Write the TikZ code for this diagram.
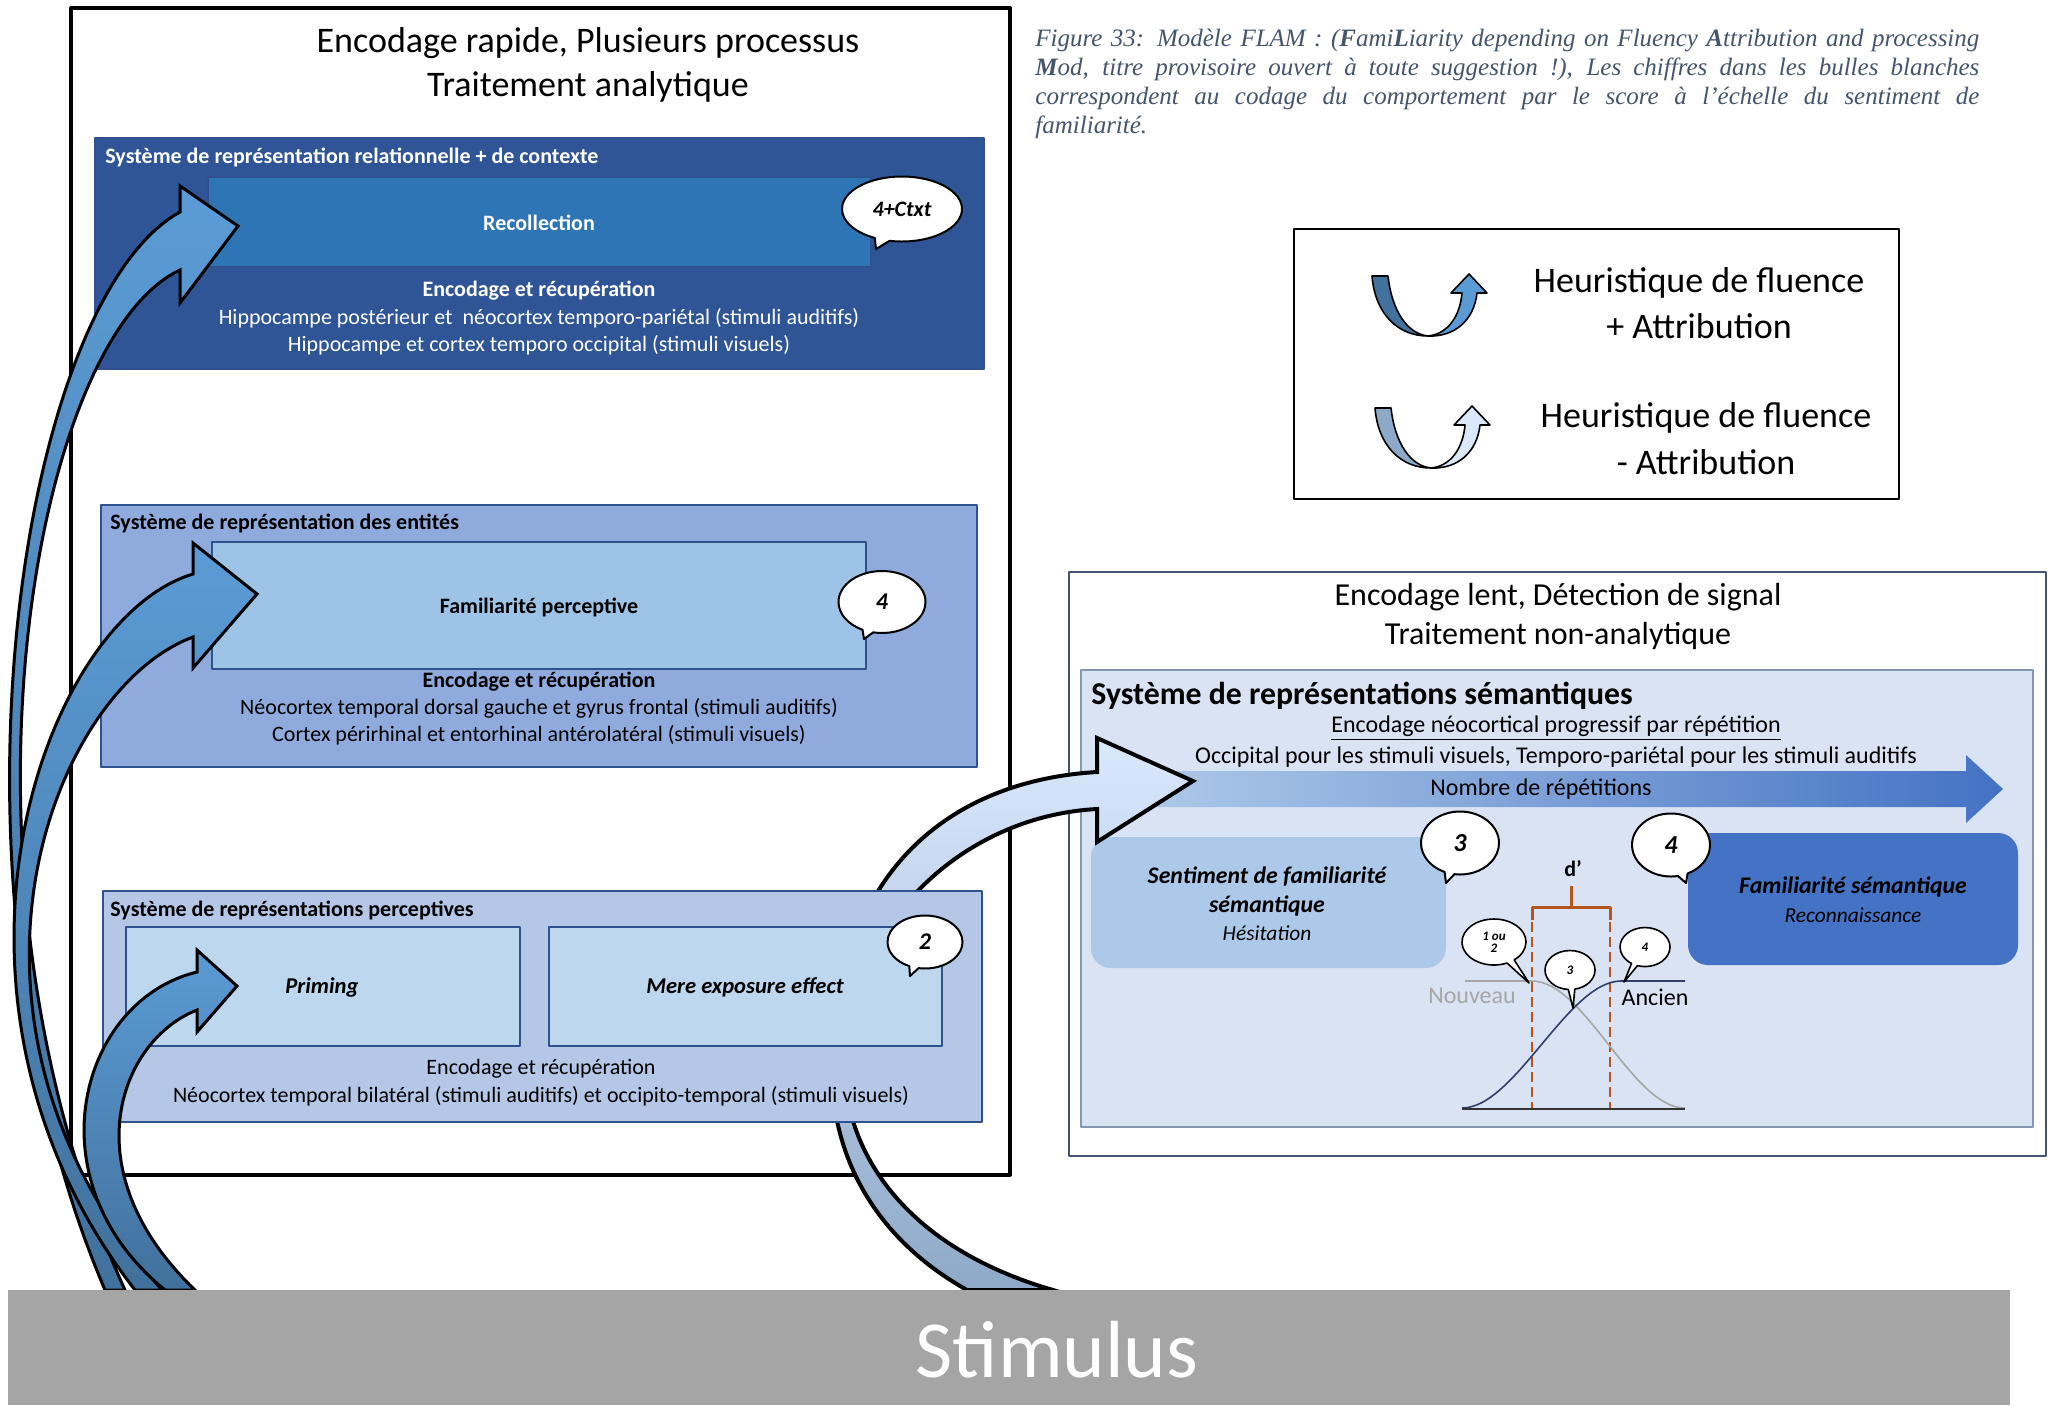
\documentclass[tikz,border=0pt]{standalone}
\usepackage{fontspec}
\setmainfont{Carlito}
\newfontfamily\capfont{Liberation Serif}
\usetikzlibrary{shapes.callouts}

\definecolor{recobg}{HTML}{2F5597}
\definecolor{recofill}{HTML}{2E75B6}
\definecolor{entbg}{HTML}{8FAADC}
\definecolor{entfill}{HTML}{9DC3E6}
\definecolor{percbg}{HTML}{B4C7E7}
\definecolor{percfill}{HTML}{BDD7EE}
\definecolor{edgeblue}{HTML}{2F528F}
\definecolor{sembg}{HTML}{DAE3F3}
\definecolor{semedge}{HTML}{8497B0}
\definecolor{frameblue}{HTML}{44546A}
\definecolor{sentfill}{HTML}{ADC9E9}
\definecolor{famfill}{HTML}{4472C4}
\definecolor{replight}{HTML}{AFCAE9}
\definecolor{repdark}{HTML}{4472C4}
\definecolor{arrowlight}{HTML}{5B9BD5}
\definecolor{arrowdark}{HTML}{41719C}
\definecolor{paleup}{HTML}{DAE8FC}
\definecolor{paledown}{HTML}{8EA9C8}
\definecolor{dprime}{HTML}{B5541B}
\definecolor{nouveaugray}{HTML}{A6A6A6}
\definecolor{ancienblue}{HTML}{2F3E6B}
\definecolor{stimgray}{HTML}{A5A5A5}
\definecolor{captiongray}{HTML}{44546A}

\tikzset{
  panel/.style={draw=edgeblue, line width=0.6pt},
  boxhead/.style={anchor=west, inner sep=0pt, font=\bfseries\fontsize{11}{13}\selectfont},
  boxtext/.style={inner sep=0pt, font=\fontsize{11}{13}\selectfont},
  boxbold/.style={inner sep=0pt, font=\bfseries\fontsize{11}{13}\selectfont},
  boxital/.style={inner sep=0pt, font=\bfseries\itshape\fontsize{11.3}{13}\selectfont},
  semital/.style={inner sep=0pt, font=\bfseries\itshape\fontsize{11.9}{14}\selectfont},
  semsub/.style={inner sep=0pt, font=\itshape\fontsize{10.7}{12}\selectfont},
  semtext/.style={inner sep=0pt, font=\fontsize{12}{14}\selectfont},
  bubble/.style={ellipse callout, draw=black, fill=white, line width=1pt, inner sep=0pt,
    font=\bfseries\itshape\fontsize{12}{14}\selectfont},
  smallbubble/.style={bubble, line width=0.8pt, font=\bfseries\itshape\fontsize{6.5}{7}\selectfont},
  blockarrow/.style={draw=black, line width=1.5pt, line join=miter},
  captline/.style={anchor=base west, inner sep=0pt, text=captiongray,
    font=\capfont\itshape\fontsize{12.5}{14.5}\selectfont},
}

\begin{document}
\begin{tikzpicture}[x=0.5pt, y=-0.5pt, line join=round]

  %% ════ 外框 ════
  \draw[line width=2pt, fill=white] (71,8) rectangle (1010,1175);
  \draw[frameblue, line width=0.8pt, fill=white] (1069,572) rectangle (2046,1156);

  \node[inner sep=0pt, font=\fontsize{18}{22}\selectfont] (rapide) at (588,43) {Encodage rapide, Plusieurs processus};
  \node[inner sep=0pt, font=\fontsize{18}{22}\selectfont] (analytique) at (588,87) {Traitement analytique};
  \node[inner sep=0pt, font=\fontsize{16}{20}\selectfont] (lent) at (1558,597) {Encodage lent, Détection de signal};
  \node[inner sep=0pt, font=\fontsize{16}{20}\selectfont] (nonanalytique) at (1558,636) {Traitement non-analytique};

  %% ════ 图注 ════
  \node[captline] (cap1) at (1035,46) {\makebox[472pt][s]{Figure 33: Modèle FLAM : (\textbf{F}ami\textbf{L}iarity depending on Fluency \textbf{A}ttribution and processing}};
  \node[captline] (cap2) at (1035,75) {\makebox[472pt][s]{\textbf{M}od, titre provisoire ouvert à toute suggestion !), Les chiffres dans les bulles blanches}};
  \node[captline] (cap3) at (1035,104) {\makebox[472pt][s]{correspondent au codage du comportement par le score à l’échelle du sentiment de}};
  \node[captline] (cap4) at (1035,133) {familiarité.};

  %% ════ 图例 ════
  \draw[line width=1.2pt] (1294,229) rectangle (1899,499);
  \filldraw[fill=arrowdark, line width=0.8pt] (1372,276) -- (1388,276) .. controls (1392,312) and (1408,334) .. (1428,336)
    .. controls (1398,336) and (1375,314) .. (1372,276) -- cycle;
  \filldraw[fill=arrowlight, line width=0.8pt] (1428,336) .. controls (1448,334) and (1460,316) .. (1462,293) -- (1451,293)
    -- (1469,274) -- (1487,293) -- (1477,293) .. controls (1474,320) and (1455,337) .. (1428,336) -- cycle;
  \begin{scope}[shift={(3,132)}]
    \filldraw[fill=paledown, line width=0.8pt] (1372,276) -- (1388,276) .. controls (1392,312) and (1408,334) .. (1428,336)
      .. controls (1398,336) and (1375,314) .. (1372,276) -- cycle;
    \filldraw[fill=paleup, line width=0.8pt] (1428,336) .. controls (1448,334) and (1460,316) .. (1462,293) -- (1451,293)
      -- (1469,274) -- (1487,293) -- (1477,293) .. controls (1474,320) and (1455,337) .. (1428,336) -- cycle;
  \end{scope}
  \node[inner sep=0pt, font=\fontsize{18}{22}\selectfont] (plus1) at (1699,283) {Heuristique de fluence};
  \node[inner sep=0pt, font=\fontsize{18}{22}\selectfont] (plus2) at (1699,326) {+ Attribution};
  \node[inner sep=0pt, font=\fontsize{18}{22}\selectfont] (moins1) at (1706,418) {Heuristique de fluence};
  \node[inner sep=0pt, font=\fontsize{18}{22}\selectfont] (moins2) at (1706,462) {- Attribution};

  %% ════ 关系 + 情境 ════
  \draw[panel, fill=recobg] (95,138) rectangle (984,369);
  \draw[panel, fill=recofill] (208,177) rectangle (871,267);
  \node[boxhead, text=white] (relhead) at (105,157) {Système de représentation relationnelle + de contexte};
  \node[boxbold, text=white] (reco) at (539,223) {Recollection};
  \node[boxbold, text=white] (recoenc) at (539,291) {Encodage et récupération};
  \node[boxtext, text=white] (recol1) at (539,318) {Hippocampe postérieur et\ \ néocortex temporo-pariétal (stimuli auditifs)};
  \node[boxtext, text=white] (recol2) at (539,345) {Hippocampe et cortex temporo occipital (stimuli visuels)};
  \node[bubble, minimum width=60pt, minimum height=32.5pt, callout absolute pointer={(876,249)},
    font=\bfseries\itshape\fontsize{11}{13}\selectfont] (bctxt) at (902,209) {4+Ctxt};

  %% ════ 实体 ════
  \draw[panel, fill=entbg] (101,505) rectangle (977,767);
  \draw[panel, fill=entfill] (212,542) rectangle (866,669);
  \node[boxhead] (enthead) at (110,523) {Système de représentation des entités};
  \node[boxbold] (famperc) at (539,607) {Familiarité perceptive};
  \node[boxbold] (entenc) at (539,682) {Encodage et récupération};
  \node[boxtext] (entl1) at (539,708) {Néocortex temporal dorsal gauche et gyrus frontal (stimuli auditifs)};
  \node[boxtext] (entl2) at (539,735) {Cortex périrhinal et entorhinal antérolatéral (stimuli visuels)};
  \node[bubble, minimum width=43.5pt, minimum height=31pt, callout absolute pointer={(864,639)}] (bent) at (882,602) {4};

  %% ════ 语义系统 ════
  \draw[semedge, line width=0.8pt, fill=sembg] (1081,670) rectangle (2033,1127);
  \node[anchor=west, inner sep=0pt, font=\bfseries\fontsize{15.9}{18}\selectfont] (semhead) at (1091,696) {Système de représentations sémantiques};
  \node[semtext] (progressif) at (1556,728) {\underline{Encodage néocortical progressif par répétition}};
  \node[semtext] (occipital) at (1556,757) {Occipital pour les stimuli visuels, Temporo-pariétal pour les stimuli auditifs};
  \shade[left color=replight, middle color=replight, right color=repdark]
    (1127,771) -- (1966,771) -- (1966,755) -- (2003,789) -- (1966,823) -- (1966,807) -- (1127,807) -- cycle;
  \node[semtext] (repetitions) at (1541,789) {Nombre de répétitions};

  \fill[sentfill, rounded corners=10pt] (1091,837) rectangle (1446,968);
  \fill[famfill, rounded corners=10pt] (1688,833) rectangle (2018,965);
  \node[semital] (sent1) at (1267,877) {Sentiment de familiarité};
  \node[semital] (sent2) at (1267,906) {sémantique};
  \node[semsub] (hesit) at (1267,933) {Hésitation};
  \node[semital] (famsem) at (1853,887) {Familiarité sémantique};
  \node[semsub] (reconn) at (1853,915) {Reconnaissance};

  %% ════ 信号检测 ════
  \draw[dprime, dash pattern=on 5pt off 2.5pt, line width=1.2pt] (1532,907) -- (1532,1108);
  \draw[dprime, dash pattern=on 5pt off 2.5pt, line width=1.2pt] (1610,907) -- (1610,1108);
  \draw[dprime, line width=1.5pt] (1532,920) -- (1532,907) -- (1610,907) -- (1610,920);
  \draw[dprime, line width=1.5pt] (1571,907) -- (1571,886);
  \node[inner sep=0pt, font=\bfseries\fontsize{11}{13}\selectfont] (dp) at (1573,869) {d’};
  \draw[nouveaugray, line width=0.8pt] (1465,981) -- (1532,981) .. controls (1585,981) and (1632,1108) .. (1685,1108);
  \draw[ancienblue, line width=0.8pt] (1462,1108) .. controls (1515,1108) and (1568,981) .. (1621,981) -- (1685,981);
  \draw[black!80, line width=1pt] (1462,1109) -- (1685,1109);
  \node[semtext, text=nouveaugray] (nouveau) at (1472,996) {Nouveau};
  \node[semtext] (ancien) at (1655,997) {Ancien};

  \node[bubble, minimum width=39pt, minimum height=31.5pt, callout absolute pointer={(1446,883)},
    font=\bfseries\itshape\fontsize{13}{15}\selectfont] (bsent) at (1460,843) {3};
  \node[bubble, minimum width=39pt, minimum height=31.5pt, callout absolute pointer={(1686,883)},
    font=\bfseries\itshape\fontsize{13}{15}\selectfont] (bfam) at (1671,845) {4};
  \node[smallbubble, align=center, minimum width=32pt, minimum height=23pt, callout absolute pointer={(1529,983)}] (bun) at (1494,942) {1 ou\\[-1pt]2};
  \node[smallbubble, minimum width=25pt, minimum height=19.5pt, callout absolute pointer={(1573,1008)}] (btrois) at (1570,970) {3};
  \node[smallbubble, minimum width=25pt, minimum height=19.5pt, callout absolute pointer={(1624,982)}] (bquatre) at (1645,947) {4};

  %% ════ 弯箭头：知觉 → 语义（中段被知觉框挡住）════
  \shadedraw[blockarrow, line width=2pt, top color=paleup, bottom color=paledown]
    (1097,772) -- (1097,738) -- (1193,781) -- (1097,842) -- (1097,809)
    .. controls (980,815) and (870,900) .. (848,1030)
    .. controls (830,1120) and (880,1240) .. (1053,1290) -- (967,1290)
    .. controls (860,1230) and (820,1130) .. (835,1030)
    .. controls (850,860) and (960,780) .. (1097,772) -- cycle;

  %% ════ 知觉表征 ════
  \draw[panel, fill=percbg] (103,891) rectangle (982,1122);
  \draw[panel, fill=percfill] (126,927) rectangle (520,1046);
  \draw[panel, fill=percfill] (549,927) rectangle (942,1046);
  \node[boxhead] (perchead) at (110,910) {Système de représentations perceptives};
  \node[boxital] (priming) at (322,987) {Priming};
  \node[boxital] (mere) at (745,987) {Mere exposure effect};
  \node[boxtext] (percenc) at (541,1069) {Encodage et récupération};
  \node[boxtext] (percl1) at (541,1096) {Néocortex temporal bilatéral (stimuli auditifs) et occipito-temporal (stimuli visuels)};
  \node[bubble, minimum width=37.5pt, minimum height=26.5pt, callout absolute pointer={(910,976)}] (bmere) at (925,942) {2};

  %% ════ 弯箭头：刺激 → 左侧三系统 ════
  \shadedraw[blockarrow, top color=arrowlight, middle color=arrowlight, bottom color=arrowdark]
    (180,212) -- (180,186) -- (238,226) -- (180,303) -- (180,270)
    .. controls (30,340) and (-62,880) .. (125,1290) -- (105,1290)
    .. controls (-70,880) and (20,300) .. (180,212) -- cycle;
  \shadedraw[blockarrow, top color=arrowlight, middle color=arrowlight, bottom color=arrowdark]
    (193,574) -- (193,543) -- (257,594) -- (193,668) -- (193,637)
    .. controls (50,690) and (-75,1020) .. (162,1290) -- (135,1290)
    .. controls (-90,1000) and (40,620) .. (193,574) -- cycle;
  \shadedraw[blockarrow, top color=arrowlight, middle color=arrowlight, bottom color=arrowdark]
    (197,972) -- (197,950) -- (237,986) -- (197,1032) -- (197,1010)
    .. controls (120,1040) and (70,1170) .. (195,1290) -- (165,1290)
    .. controls (30,1180) and (80,1000) .. (197,972) -- cycle;

  %% ════ 刺激 ════
  \fill[stimgray] (8,1290) rectangle (2010,1405);
  \node[inner sep=0pt, text=white, font=\fontsize{40.5}{44}\selectfont] (stimulus) at (1057,1350) {Stimulus};

  % 钉死画布
  \pgfresetboundingbox
  \path[use as bounding box] (0,0) rectangle (2055,1405);
\end{tikzpicture}
\end{document}
